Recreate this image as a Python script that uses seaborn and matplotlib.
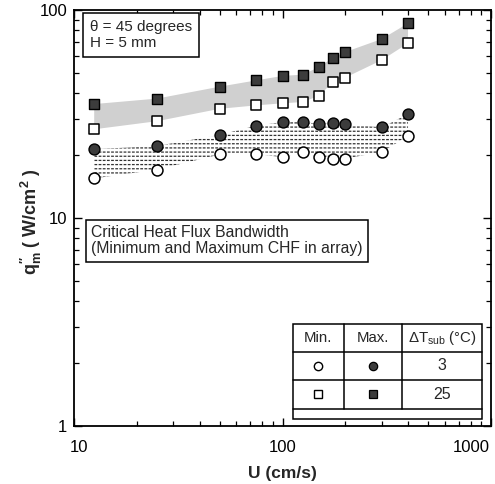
import matplotlib
matplotlib.use("Agg")
import matplotlib.pyplot as plt
import matplotlib.transforms as mtransforms
import seaborn as sns
import pandas as pd
from matplotlib.ticker import FixedLocator, LogLocator, NullFormatter, FuncFormatter

# ---- data ----
U = [12.5, 25, 50, 75, 100, 125, 150, 175, 200, 300, 400]
q_max_25 = [35.3, 37.5, 42.8, 45.9, 48.2, 48.9, 53.2, 59.0, 62.8, 72.6, 86.3]
q_min_25 = [26.7, 29.2, 33.5, 34.8, 35.6, 36.1, 38.7, 45.2, 47.3, 57.5, 69.2]
q_max_3 = [21.4, 22.2, 25.1, 27.8, 28.9, 29.0, 28.3, 28.6, 28.3, 27.3, 31.6]
q_min_3 = [15.5, 17.1, 20.2, 20.3, 19.6, 20.8, 19.6, 19.3, 19.3, 20.8, 24.8]
x_ticks = [10, 100, 1000]
y_ticks = [1, 10, 100]
table_header = ["Min.", "Max.", r"$\Delta$T$_{\mathrm{sub}}$ (°C)"]
table_dt = ["3", "25"]

sns.set_style("ticks")
plt.rcParams["font.family"] = ["Liberation Sans", "DejaVu Sans"]
plt.rcParams["mathtext.fontset"] = "custom"
plt.rcParams["mathtext.rm"] = "Liberation Sans"
plt.rcParams["mathtext.it"] = "Liberation Sans:italic"
plt.rcParams["mathtext.bf"] = "Liberation Sans:bold"

df = pd.DataFrame({"U": U, "max25": q_max_25, "min25": q_min_25,
                   "max3": q_max_3, "min3": q_min_3})

fig = plt.figure(figsize=(4.95, 4.84), dpi=100)
ax = fig.add_axes([74 / 495, 1 - 426 / 484, 417 / 495, 416 / 484])

# bands
ax.fill_between(df["U"], df["min25"], df["max25"], facecolor="#d0d0d0",
                edgecolor="none", zorder=1)
plt.rcParams["hatch.linewidth"] = 0.9
ax.fill_between(df["U"], df["min3"], df["max3"], facecolor="none",
                edgecolor="#333333", hatch="----", linewidth=0, zorder=1)
plt.rcParams["hatch.linewidth"] = 1.0
ax.fill_between(df["U"], df["min3"], df["max3"], facecolor="none",
                edgecolor="white", hatch="||||", linewidth=0, zorder=1.5)

# points
dark = "#3c3c3c"
sns.scatterplot(data=df, x="U", y="min3", ax=ax, marker="o", s=62,
                color="white", edgecolor="black", linewidth=1.1, zorder=3)
sns.scatterplot(data=df, x="U", y="max3", ax=ax, marker="o", s=62,
                color=dark, edgecolor="black", linewidth=1.0, zorder=3)
sns.scatterplot(data=df, x="U", y="min25", ax=ax, marker="s", s=52,
                color="white", edgecolor="black", linewidth=1.1, zorder=3)
sns.scatterplot(data=df, x="U", y="max25", ax=ax, marker="s", s=52,
                color=dark, edgecolor="black", linewidth=1.0, zorder=3)

ax.set_xscale("log")
ax.set_yscale("log")
ax.set_xlim(10, 1000)
ax.set_ylim(1, 100)
ax.xaxis.set_major_locator(FixedLocator(x_ticks))
ax.yaxis.set_major_locator(FixedLocator(y_ticks))
ax.xaxis.set_minor_locator(LogLocator(base=10, subs=range(2, 10)))
ax.yaxis.set_minor_locator(LogLocator(base=10, subs=range(2, 10)))
fmt = FuncFormatter(lambda v, p: f"{v:g}")
ax.xaxis.set_major_formatter(fmt)
ax.yaxis.set_major_formatter(fmt)
ax.xaxis.set_minor_formatter(NullFormatter())
ax.yaxis.set_minor_formatter(NullFormatter())
ax.tick_params(which="both", direction="in", top=True, right=True,
               labelsize=12, colors="black")
ax.tick_params(axis="x", which="major", length=6, width=1.0, pad=10)
ax.tick_params(axis="y", which="major", length=6, width=1.0, pad=5)
ax.tick_params(which="minor", length=3.5, width=0.9)
for s in ax.spines.values():
    s.set_linewidth(1.3)
    s.set_color("black")

fig.canvas.draw()
xlabels = ax.get_xticklabels()
xlabels[0].set_transform(xlabels[0].get_transform() +
                         mtransforms.ScaledTranslation(5 / 100, 0, fig.dpi_scale_trans))
xlabels[-1].set_horizontalalignment("right")
xlabels[-1].set_transform(xlabels[-1].get_transform() +
                          mtransforms.ScaledTranslation(-1 / 100, 0, fig.dpi_scale_trans))

ax.set_xlabel("U (cm/s)", fontsize=12.5, fontweight="bold", labelpad=8)
ax.set_ylabel("$\\mathbf{q}^{\\mathbf{\u2033}}_{\\mathbf{m}}$ ( W/cm$^{\\mathbf{2}}$ )",
              fontsize=13, fontweight="bold")
ax.yaxis.set_label_coords(-0.072, 0.49)

# text boxes
ax.text(0.038, 0.976, "θ = 45 degrees\nH = 5 mm", transform=ax.transAxes,
        fontsize=11, va="top", ha="left", linespacing=1.15,
        bbox=dict(boxstyle="square,pad=0.45", facecolor="white",
                  edgecolor="black", linewidth=1.1))
ax.text(0.041, 0.483, "Critical Heat Flux Bandwidth\n(Minimum and Maximum CHF in array)",
        transform=ax.transAxes, fontsize=11.3, va="top", ha="left", linespacing=1.1,
        bbox=dict(boxstyle="square,pad=0.35", facecolor="white",
                  edgecolor="black", linewidth=1.1))

# table
tx = [0.525, 0.647, 0.787, 0.978]
ty = [0.245, 0.178, 0.1106, 0.041]
t_bottom = 0.0168
T = ax.transAxes
lw = 1.1
ax.fill([tx[0], tx[3], tx[3], tx[0]], [t_bottom, t_bottom, ty[0], ty[0]],
        transform=T, facecolor="white", edgecolor="black", linewidth=lw, zorder=4)
for yy in ty[1:]:
    ax.plot([tx[0], tx[3]], [yy, yy], transform=T, color="black", lw=lw, zorder=5)
for xx in tx[1:3]:
    ax.plot([xx, xx], [ty[3], ty[0]], transform=T, color="black", lw=lw, zorder=5)
cx = [(tx[i] + tx[i + 1]) / 2 for i in range(3)]
cy = [(ty[i] + ty[i + 1]) / 2 for i in range(3)]
for i, h in enumerate(table_header):
    ax.text(cx[i], cy[0], h, transform=T, ha="center", va="center",
            fontsize=10.8, zorder=6)
ax.plot(cx[0], cy[1], "o", ms=6, mfc="white", mec="black", mew=1.0,
        transform=T, zorder=6)
ax.plot(cx[1], cy[1], "o", ms=6, mfc=dark, mec="black", mew=0.9,
        transform=T, zorder=6)
ax.plot(cx[0], cy[2], "s", ms=5.5, mfc="white", mec="black", mew=1.0,
        transform=T, zorder=6)
ax.plot(cx[1], cy[2], "s", ms=5.5, mfc=dark, mec="black", mew=0.9,
        transform=T, zorder=6)
ax.text(cx[2], cy[1], table_dt[0], transform=T, ha="center", va="center",
        fontsize=11.5, zorder=6)
ax.text(cx[2], cy[2], table_dt[1], transform=T, ha="center", va="center",
        fontsize=11.5, zorder=6)

fig.savefig("out.png", dpi=100)
